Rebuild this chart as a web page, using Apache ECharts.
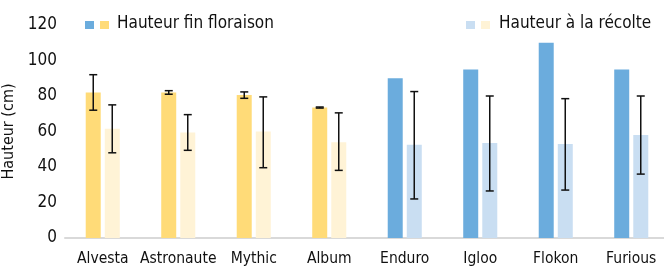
<!DOCTYPE html>
<html><head><meta charset="utf-8">
<script src="https://cdn.jsdelivr.net/npm/echarts@6/dist/echarts.min.js"></script>
<style>html,body{margin:0;padding:0;background:#fff}#c{width:664px;height:266px}</style>
</head><body><div id="c"></div>
<script>
var categories = ['Alvesta','Astronaute','Mythic','Album','Enduro','Igloo','Flokon','Furious'];
var floraison = [82, 82, 80.5, 73.5, 90, 95, 110, 95];
var floraisonLow = [72, 81, 78.7, 73.2, null, null, null, null];
var floraisonHigh = [92, 83, 82.3, 73.8, null, null, null, null];
var recolte = [61.5, 59.5, 60, 54, 52.5, 53.5, 53, 58];
var recolteLow = [48, 49.4, 39.6, 38.1, 22, 26.5, 27, 36];
var recolteHigh = [75, 69.5, 79.5, 70.5, 82.5, 80, 78.5, 80];
var isYellow = [true, true, true, true, false, false, false, false];
var yTicks = [0, 20, 40, 60, 80, 100, 120];

var FONT = '"Liberation Sans Narrow","DejaVu Sans Condensed","Roboto",sans-serif';
var C_Y = '#FFDB78', C_YP = '#FFF3D6', C_B = '#6BACDD', C_BP = '#C9DEF2';

function errData(lo, hi) {
  return categories.map(function (c, i) { return [i, lo[i], hi[i]]; }).filter(function (d) { return d[1] != null; });
}
function errSeries(lo, hi, offset) {
  return {
    type: 'custom', z: 10,
    data: errData(lo, hi),
    encode: { x: 0, y: [1, 2] },
    renderItem: function (params, api) {
      var i = api.value(0);
      var p1 = api.coord([i, api.value(1)]);
      var p2 = api.coord([i, api.value(2)]);
      var x = p1[0] + offset;
      var st = { stroke: '#111', lineWidth: 1.5 };
      return { type: 'group', children: [
        { type: 'line', shape: { x1: x, y1: p1[1], x2: x, y2: p2[1] }, style: st },
        { type: 'line', shape: { x1: x - 4, y1: p1[1], x2: x + 4, y2: p1[1] }, style: st },
        { type: 'line', shape: { x1: x - 4, y1: p2[1], x2: x + 4, y2: p2[1] }, style: st }
      ]};
    }
  };
}

var chart = echarts.init(document.getElementById('c'), null, { renderer: 'canvas' });
chart.setOption({
  animation: false,
  textStyle: { fontFamily: FONT },
  grid: { left: 65, top: 25, width: 604, height: 213, outerBoundsMode: 'none', containLabel: false },
  xAxis: {
    type: 'category', data: categories,
    axisLine: { lineStyle: { color: '#D9D9D9', width: 2 } },
    axisTick: { show: false },
    axisLabel: { color: '#111', fontSize: 15.5, fontFamily: FONT, margin: 13, interval: 0 }
  },
  yAxis: {
    type: 'value', min: 0, max: 120, interval: 20,
    name: 'Hauteur (cm)', nameLocation: 'middle', nameGap: 42,
    nameTextStyle: { color: '#111', fontSize: 16, fontFamily: FONT },
    axisLine: { show: false }, axisTick: { show: false }, splitLine: { show: false },
    axisLabel: { color: '#111', fontSize: 17, fontFamily: FONT, margin: 8, padding: [5, 0, 0, 0] }
  },
  series: [
    { type: 'bar', name: 'Hauteur fin floraison', barWidth: 15, barGap: '27%',
      data: floraison.map(function (v, i) { return { value: v, itemStyle: { color: isYellow[i] ? C_Y : C_B } }; }) },
    { type: 'bar', name: 'Hauteur à la récolte', barWidth: 15, barGap: '27%',
      data: recolte.map(function (v, i) { return { value: v, itemStyle: { color: isYellow[i] ? C_YP : C_BP } }; }) },
    errSeries(floraisonLow, floraisonHigh, -9.5),
    errSeries(recolteLow, recolteHigh, 9.5)
  ],
  graphic: [
    { type: 'rect', left: 85, top: 21, shape: { width: 9, height: 8 }, style: { fill: C_B } },
    { type: 'rect', left: 100, top: 21, shape: { width: 9, height: 8 }, style: { fill: C_Y } },
    { type: 'text', left: 117, top: 15, style: { text: 'Hauteur fin floraison', font: '17px ' + FONT, fill: '#111' } },
    { type: 'rect', left: 466, top: 21, shape: { width: 9, height: 8 }, style: { fill: C_BP } },
    { type: 'rect', left: 481, top: 21, shape: { width: 9, height: 8 }, style: { fill: C_YP } },
    { type: 'text', left: 499, top: 15, style: { text: 'Hauteur à la récolte', font: '17px ' + FONT, fill: '#111' } }
  ]
});
</script></body></html>
